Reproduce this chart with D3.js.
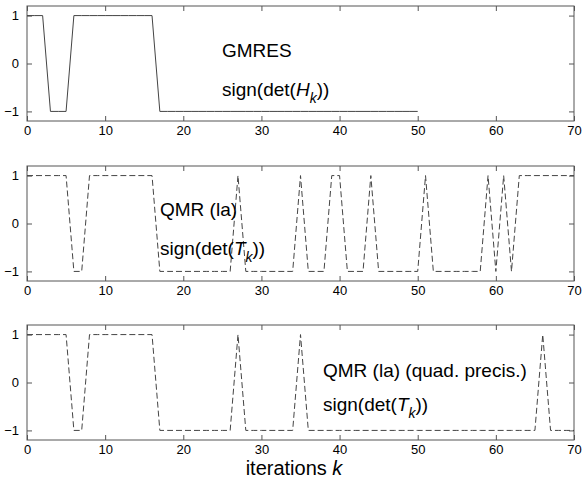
<!DOCTYPE html>
<html><head><meta charset="utf-8">
<script src="https://cdn.jsdelivr.net/npm/d3@7"></script>
<style>
html,body{margin:0;padding:0;background:#fff;}
svg{display:block;font-family:"Liberation Sans",Arial,Helvetica,sans-serif;}
</style></head>
<body>
<svg id="chart" width="584" height="480"></svg>
<script>
// iteration indices
const kGmres = [0,1,2,3,4,5,6,7,8,9,10,11,12,13,14,15,16,17,18,19,20,21,22,23,24,25,26,27,28,29,30,31,32,33,34,35,36,37,38,39,40,41,42,43,44,45,46,47,48,49,50];
const kQmr = [0,1,2,3,4,5,6,7,8,9,10,11,12,13,14,15,16,17,18,19,20,21,22,23,24,25,26,27,28,29,30,31,32,33,34,35,36,37,38,39,40,41,42,43,44,45,46,47,48,49,50,51,52,53,54,55,56,57,58,59,60,61,62,63,64,65,66,67,68,69,70];

// sign(det(H_k)) for GMRES
const gmresSign = [1,1,1,-1,-1,-1,1,1,1,1,1,1,1,1,1,1,1,
  -1,-1,-1,-1,-1,-1,-1,-1,-1,-1,-1,-1,-1,-1,-1,-1,-1,-1,-1,-1,-1,-1,-1,-1,-1,-1,-1,-1,-1,-1,-1,-1,-1,-1];

// sign(det(T_k)) for QMR (la)
const qmrSign = [1,1,1,1,1,1,-1,-1,1,1,1,1,1,1,1,1,1,
  -1,-1,-1,-1,-1,-1,-1,-1,-1,-1,1,-1,-1,-1,-1,-1,-1,-1,1,-1,-1,-1,1,1,-1,-1,-1,1,
  -1,-1,-1,-1,-1,-1,1,-1,-1,-1,-1,-1,-1,-1,1,-1,1,-1,1,1,1,1,1,1,1,1];

// sign(det(T_k)) for QMR (la) in quad precision
const qmrQuadSign = [1,1,1,1,1,1,-1,-1,1,1,1,1,1,1,1,1,1,
  -1,-1,-1,-1,-1,-1,-1,-1,-1,-1,1,-1,-1,-1,-1,-1,-1,-1,1,
  -1,-1,-1,-1,-1,-1,-1,-1,-1,-1,-1,-1,-1,-1,-1,-1,-1,-1,-1,-1,-1,-1,-1,-1,-1,-1,-1,-1,-1,-1,1,-1,-1,-1,-1];

const xTicks = [0,10,20,30,40,50,60,70];
const yTicks = [-1,0,1];
const xDomain = [0,70];
const yDomain = [-1.2,1.2];
const xLabel = "iterations ";
const xLabelVar = "k";

const panels = [
  {k:kGmres, v:gmresSign, dash:null, top:6,
   title:"GMRES", tx:222, ty1:57, ty2:96, sym:"H"},
  {k:kQmr, v:qmrSign, dash:"6,3", top:166,
   title:"QMR (la)", tx:160, ty1:216, ty2:255, sym:"T"},
  {k:kQmr, v:qmrQuadSign, dash:"6,3", top:325,
   title:"QMR (la) (quad. precis.)", tx:323, ty1:377, ty2:411, sym:"T"}
];

const svg = d3.select("#chart");
const left = 27, right = 574, h = 115;
const x = d3.scaleLinear().domain(xDomain).range([left,right]);
const axisColor = "#555";
const fs = 19;

panels.forEach(p => {
  const y = d3.scaleLinear().domain(yDomain).range([p.top+h, p.top]);
  const g = svg.append("g");
  g.append("rect").attr("x",left).attr("y",p.top).attr("width",right-left).attr("height",h)
    .attr("fill","none").attr("stroke",axisColor).attr("stroke-width",1);
  const tl = 5;
  const ax = d3.axisBottom(x).tickValues(xTicks).tickSizeInner(-tl).tickSizeOuter(0).tickPadding(5);
  const axG = g.append("g").attr("transform",`translate(0,${p.top+h})`).call(ax);
  const axT = d3.axisTop(x).tickValues(xTicks).tickSizeInner(-tl).tickSizeOuter(0).tickFormat("");
  const axTG = g.append("g").attr("transform",`translate(0,${p.top})`).call(axT);
  const ay = d3.axisLeft(y).tickValues(yTicks).tickSizeInner(-tl).tickSizeOuter(0).tickPadding(8).tickFormat(d => d<0 ? "\u2212"+Math.abs(d) : d);
  const ayG = g.append("g").attr("transform",`translate(${left},0)`).call(ay);
  const ayR = d3.axisRight(y).tickValues(yTicks).tickSizeInner(-tl).tickSizeOuter(0).tickFormat("");
  const ayRG = g.append("g").attr("transform",`translate(${right},0)`).call(ayR);
  [axG,axTG,ayG,ayRG].forEach(a => {
    a.select(".domain").remove();
    a.selectAll("line").attr("stroke",axisColor);
    a.selectAll("text").attr("fill","#000").style("font-size","13px").style("font-family","'Liberation Sans',Arial,sans-serif");
  });
  const line = d3.line().x((d,i)=>x(p.k[i])).y(d=>y(d));
  g.append("path").datum(p.v).attr("d",line).attr("fill","none")
    .attr("stroke","#444").attr("stroke-width",1)
    .attr("stroke-dasharray",p.dash);
  g.append("text").attr("x",p.tx).attr("y",p.ty1).style("font-size",fs+"px").text(p.title);
  const t = g.append("text").attr("x",p.tx).attr("y",p.ty2).style("font-size",fs+"px");
  t.append("tspan").text("sign(det(");
  t.append("tspan").style("font-style","italic").text(p.sym);
  t.append("tspan").attr("dy",7).style("font-style","italic").style("font-size","14px").text("k");
  t.append("tspan").attr("dy",-7).text("))");
});

const xl = svg.append("text").attr("x",294).attr("y",475).attr("text-anchor","middle").style("font-size","20px");
xl.append("tspan").text(xLabel);
xl.append("tspan").style("font-style","italic").text(xLabelVar);
</script>
</body></html>
